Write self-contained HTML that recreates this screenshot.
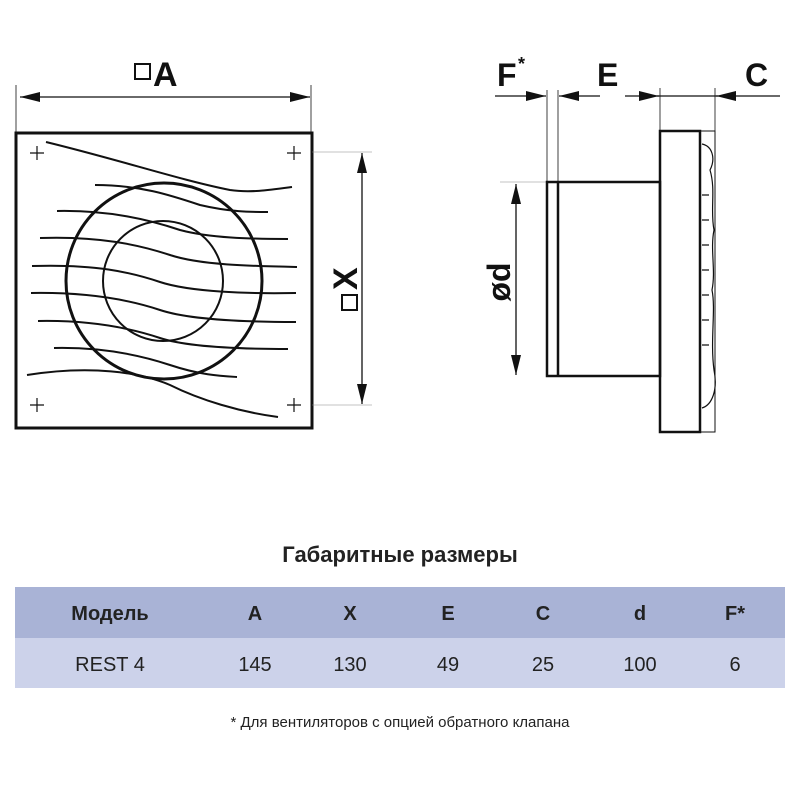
<!DOCTYPE html>
<html><head><meta charset="utf-8"><style>
body{margin:0;width:800px;height:800px;background:#fff;overflow:hidden;font-family:"Liberation Sans",sans-serif}
</style></head><body>
<svg width="800" height="800" viewBox="0 0 800 800" xmlns="http://www.w3.org/2000/svg" style="position:absolute;left:0;top:0">
<defs>
<marker id="ar" viewBox="0 0 20 10" refX="20" refY="5" markerWidth="20" markerHeight="10" markerUnits="userSpaceOnUse" orient="auto-start-reverse"><path d="M0,0L20,5L0,10z" fill="#111"/></marker>
</defs>
<g stroke="#111" fill="none">
<line x1="16" y1="85" x2="16" y2="133" stroke-width="0.8"/>
<line x1="311" y1="85" x2="311" y2="133" stroke-width="0.8"/>
<line x1="20" y1="97" x2="310" y2="97" stroke-width="1.3" marker-start="url(#ar)" marker-end="url(#ar)"/>
<rect x="16" y="133" width="296" height="295" stroke-width="3"/>
<path d="M30 153h14M37 146v14M287 153h14M294 146v14M30 405h14M37 398v14M287 405h14M294 398v14" stroke-width="1.2"/>
<line x1="312" y1="152" x2="372" y2="152" stroke-width="0.6" stroke="#888"/>
<line x1="312" y1="405" x2="372" y2="405" stroke-width="0.6" stroke="#888"/>
<line x1="362" y1="153" x2="362" y2="404" stroke-width="1.3" marker-start="url(#ar)" marker-end="url(#ar)"/>
<circle cx="164" cy="281" r="98" stroke-width="3"/>
<circle cx="163" cy="281" r="60" stroke-width="2"/>
<g stroke-width="2">
<path d="M46 142 C120 160 180 180 230 190 C250 193 270 190 292 187"/>
<path d="M95 185 C140 185 170 195 200 205 C230 212 250 212 268 212"/>
<path d="M57 211 C110 210 150 220 180 230 C210 238 250 239 288 239"/>
<path d="M40 238 C100 236 140 245 170 255 C200 265 250 266 297 267"/>
<path d="M32 266 C95 264 130 272 160 282 C190 292 250 294 296 293"/>
<path d="M31 293 C90 292 130 300 160 310 C190 320 250 322 296 322"/>
<path d="M38 321 C90 320 130 328 160 338 C190 348 250 349 288 349"/>
<path d="M54 348 C100 347 140 355 170 365 C200 375 220 376 237 377"/>
<path d="M27 375 C90 365 140 372 170 385 C200 400 240 412 278 417"/>
</g>
<line x1="495" y1="96" x2="546" y2="96" stroke-width="1.3" marker-end="url(#ar)"/>
<line x1="600" y1="96" x2="559" y2="96" stroke-width="1.3" marker-end="url(#ar)"/>
<line x1="625" y1="96" x2="659" y2="96" stroke-width="1.3" marker-end="url(#ar)"/>
<line x1="780" y1="96" x2="716" y2="96" stroke-width="1.3" marker-end="url(#ar)"/>
<line x1="657" y1="96" x2="718" y2="96" stroke-width="1.3"/>
<path d="M547 90V182M558 90V182M660 88V131M715 88V131" stroke-width="0.8"/>
<line x1="500" y1="182" x2="547" y2="182" stroke-width="0.6" stroke="#888"/>
<line x1="516" y1="184" x2="516" y2="375" stroke-width="1.3" marker-start="url(#ar)" marker-end="url(#ar)"/>
<rect x="547" y="182" width="113" height="194" stroke-width="2.5"/>
<line x1="558" y1="182" x2="558" y2="376" stroke-width="2.5"/>
<rect x="660" y="131" width="40" height="301" stroke-width="2.5"/>
<rect x="700" y="131" width="15" height="301" stroke-width="1"/>
<path d="M702 144 C712 146 716 158 710 170 C716 190 710 210 714 230 C710 250 716 270 712 290 C716 310 710 340 714 370 C718 390 712 405 702 408" stroke-width="1.2"/>
<path d="M702 195h7M702 220h7M702 245h7M702 270h7M702 295h7M702 320h7M702 345h7" stroke-width="1.2"/>
</g>
<g font-weight="bold" fill="#111">
<rect x="135" y="64" width="15" height="15" fill="none" stroke="#111" stroke-width="2"/>
<text x="153" y="86" font-size="34">A</text>
<g transform="translate(357,280) rotate(-90)"><text x="-10" y="0" font-size="34" text-anchor="start">X</text><rect x="-30" y="-15" width="15" height="15" fill="none" stroke="#111" stroke-width="2"/></g>
<text x="497" y="86" font-size="32">F</text><text x="518" y="70" font-size="18">*</text>
<text x="597" y="86" font-size="32">E</text>
<text x="745" y="86" font-size="32">C</text>
<text transform="translate(510,282) rotate(-90)" font-size="32" text-anchor="middle">ød</text>
</g>
<text x="400" y="562" font-size="22" font-weight="bold" text-anchor="middle" fill="#222">Габаритные размеры</text>
<rect x="15" y="587" width="770" height="51" fill="#a9b3d6"/>
<rect x="15" y="638" width="770" height="50" fill="#ccd2ea"/>
<g font-size="20" font-weight="bold" text-anchor="middle" fill="#222">
<text x="110" y="620">Модель</text><text x="255" y="620">A</text><text x="350" y="620">X</text><text x="448" y="620">E</text><text x="543" y="620">C</text><text x="640" y="620">d</text><text x="735" y="620">F*</text>
</g>
<g font-size="20" text-anchor="middle" fill="#222">
<text x="110" y="671">REST 4</text><text x="255" y="671">145</text><text x="350" y="671">130</text><text x="448" y="671">49</text><text x="543" y="671">25</text><text x="640" y="671">100</text><text x="735" y="671">6</text>
</g>
<text x="400" y="727" font-size="15" text-anchor="middle" fill="#222">* Для вентиляторов с опцией обратного клапана</text>
</svg>
</body></html>
